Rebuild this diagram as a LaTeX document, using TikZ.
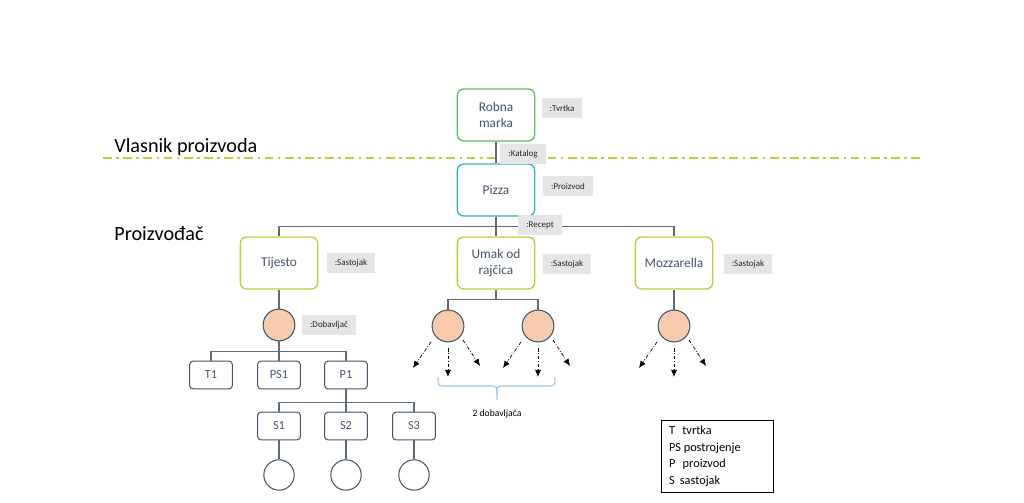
\documentclass[tikz,border=0pt]{standalone}
\usepackage{fontspec}
\setmainfont{Carlito}
\usetikzlibrary{arrows.meta}
\definecolor{slate}{HTML}{44546A}
\definecolor{wirecol}{HTML}{5E6A7A}
\definecolor{brandgreen}{HTML}{5CBF6A}
\definecolor{pizzateal}{HTML}{2DB5C0}
\definecolor{lime}{HTML}{B4D23C}
\definecolor{peach}{HTML}{F8CBAD}
\definecolor{tagfill}{HTML}{E5E5E5}
\definecolor{bracecol}{HTML}{9DC3E6}
\begin{document}
\begin{tikzpicture}[x=0.02cm,y=-0.02cm,
    unit/.style={draw=#1, rounded corners=3.5pt, line width=0.75pt, fill=white, minimum width=44pt, minimum height=29.5pt, align=center, text=slate, font=\fontsize{7.6}{9.5}\selectfont},
    tag/.style={fill=tagfill, minimum height=11.9pt, inner xsep=4.5pt, inner ysep=0pt, font=\fontsize{5.1}{6}\selectfont, text=black!85},
    part/.style={draw=slate, rounded corners=2pt, line width=0.6pt, fill=white, minimum width=24.4pt, minimum height=15.8pt, text=slate, font=\fontsize{7}{8}\selectfont},
    supplier/.style={circle, draw=slate, fill=peach, line width=0.6pt, minimum size=18.1pt, inner sep=0pt},
    site/.style={circle, draw=slate, line width=0.6pt, minimum size=17.3pt, inner sep=0pt},
    wire/.style={draw=wirecol, line width=0.8pt},
    supply/.style={-{Latex[length=4pt,width=3.4pt]}, line width=0.4pt, dash pattern=on 2pt off 1pt on 0.5pt off 1pt}]
    \useasboundingbox (0,0) rectangle (1024,503);
    % levels
    \node[anchor=base west, inner sep=0pt, font=\fontsize{11.5}{13}\selectfont] (owner) at (114,153) {Vlasnik proizvoda};
    \node[anchor=base west, inner sep=0pt, font=\fontsize{11.5}{13}\selectfont] (maker) at (114,240) {Proizvođač};
    \draw[lime, line width=0.6pt, dash pattern=on 5pt off 2.5pt on 1.5pt off 2.5pt] (103,158) -- (922,158);
    % product chain
    \node[unit=brandgreen] (robna) at (496,115) {Robna\\marka};
    \node[unit=pizzateal] (pizza) at (496,190) {Pizza};
    \node[unit=lime] (tijesto) at (279,263) {Tijesto};
    \node[unit=lime] (umak) at (496,263) {Umak od\\rajčica};
    \node[unit=lime] (mozz) at (674,263) {Mozzarella};
    \node[supplier] (dobT) at (279,325) {};
    \node[supplier] (dobU1) at (448,326) {};
    \node[supplier] (dobU2) at (538,326) {};
    \node[supplier] (dobM) at (674,326) {};
    \foreach \n/\x in {T1/211, PS1/279, P1/346}
        \node[part] (\n) at (\x,375) {\n};
    \foreach \n/\x in {S1/279, S2/346, S3/414}{
        \node[part] (\n) at (\x,426) {\n};
        \node[site] (site\n) at (\x,475) {};
        \draw[wire] (\n) -- (site\n);
    }
    \draw[wire] (robna) -- (pizza);
    \draw[wire] (pizza) -- (umak);
    \draw[wire] (pizza.south) -- ++(0,10) -| (tijesto.north);
    \draw[wire] (pizza.south) -- ++(0,10) -| (mozz.north);
    \draw[wire] (tijesto) -- (dobT);
    \draw[wire] (dobT) -- (PS1);
    \draw[wire] (dobT.south) -- ++(0,10) -| (T1.north);
    \draw[wire] (dobT.south) -- ++(0,10) -| (P1.north);
    \draw[wire] (P1) -- (S2);
    \draw[wire] (P1.south) -- ++(0,13) -| (S1.north);
    \draw[wire] (P1.south) -- ++(0,13) -| (S3.north);
    \draw[wire] (umak.south) -- ++(0,10) -| (dobU1.north);
    \draw[wire] (umak.south) -- ++(0,10) -| (dobU2.north);
    \draw[wire] (mozz) -- (dobM);
    \foreach \c in {dobU1, dobU2, dobM}{
        \draw[supply] ([shift={(-17,16)}]\c.center) -- ++(-18,26);
        \draw[supply] ([shift={(0,22)}]\c.center) -- ++(0,29);
        \draw[supply] ([shift={(15,14)}]\c.center) -- ++(17,26);
    }
    % brace
    \draw[bracecol, line width=0.6pt] (438,377) .. controls (438,386) .. (446,386) -- (489,386) .. controls (497,386) .. (497,394) -- (497,400);
    \draw[bracecol, line width=0.6pt] (497,394) .. controls (497,386) .. (505,386) -- (547,386) .. controls (555,386) .. (555,377);
    \node[font=\fontsize{5.5}{6.5}\selectfont] (twoSup) at (497,414) {2 dobavljača};
    % roles
    \node[tag] (tTvrtka) at (562,108) {:Tvrtka};
    \node[tag] (tKatalog) at (523,154) {:Katalog};
    \node[tag] (tProizvod) at (568,186) {:Proizvod};
    \node[tag] (tRecept) at (540,225) {:Recept};
    \node[tag] (tSastT) at (351,263) {:Sastojak};
    \node[tag] (tSastU) at (567,264) {:Sastojak};
    \node[tag] (tSastM) at (748,264) {:Sastojak};
    \node[tag] (tDob) at (329,325) {:Dobavljač};
    % legend
    \node[draw=black, line width=0.6pt, anchor=north west, minimum width=63.5pt, minimum height=39.7pt, text width=55pt, inner xsep=4pt, align=left, font=\fontsize{7}{9.4}\selectfont] (legend) at (661,420)
        {T\hspace{4.2pt}tvrtka\\PS\hspace{1.6pt}postrojenje\\P\hspace{4.2pt}proizvod\\S\hspace{3pt}sastojak};
\end{tikzpicture}
\end{document}
